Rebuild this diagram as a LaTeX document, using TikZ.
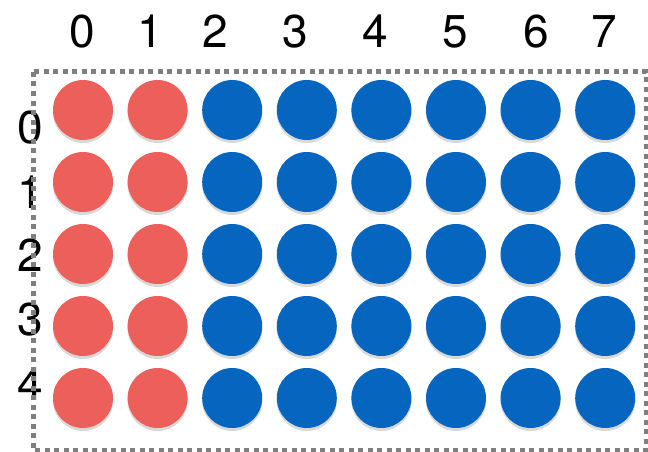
\documentclass[tikz,border=0pt]{standalone}
\usepackage{fontspec}
\setsansfont{TeX Gyre Heros}
\usetikzlibrary{shadows}
\definecolor{dotred}{HTML}{EC5F5A}
\definecolor{dotblue}{HTML}{0565BF}
\definecolor{framegray}{HTML}{7F7F7F}

\begin{document}
\begin{tikzpicture}[x=1pt, y=-1pt,
  dot/.style={circle, minimum size=60pt, inner sep=0pt,
    drop shadow={shadow xshift=0pt, shadow yshift=-3pt, opacity=0.3}},
  lbl/.style={font=\fontsize{46}{50}\selectfont\sffamily, inner sep=0pt}]
\useasboundingbox (0,0) rectangle (648,452);
% index labels
\foreach \c/\x in {0/82,1/150,2/215,3/295,4/375,5/455,6/536,7/604}
  \node[lbl] (col\c) at (\x,31.5) {\c};
\foreach \r/\y in {0/128,1/192,2/255,3/320,4/384}
  \node[lbl] (row\r) at (30,\y) {\r};
% frame
\draw[framegray, line width=5pt, dash pattern=on 5pt off 4.5pt] (33,72) rectangle (646,450);
% grid of dots
\foreach \r in {0,...,4}
  \foreach \c in {0,...,7} {
    \ifnum\c<2 \def\dotcol{dotred}\else\def\dotcol{dotblue}\fi
    \node[dot, fill=\dotcol] (d\r\c) at ({83+74.6*\c},{110+72*\r}) {};
  }
\end{tikzpicture}
\end{document}
